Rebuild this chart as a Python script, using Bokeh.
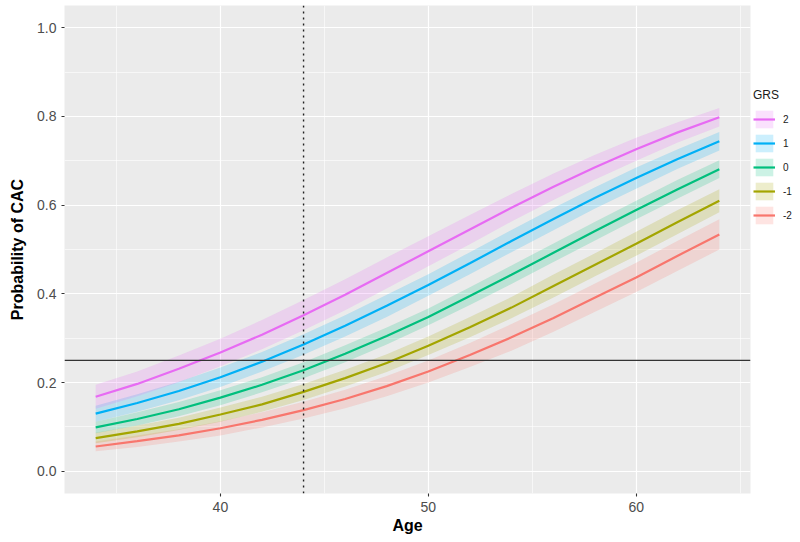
from bokeh.plotting import figure
from bokeh.models import Range1d, SingleIntervalTicker, Span, Legend, LegendItem, ColumnDataSource
from bokeh.embed import file_html
from bokeh.resources import INLINE

# ---- data ----
age = [34, 36, 38, 40, 42, 44, 46, 48, 50, 52, 54, 56, 58, 60, 62, 64]
grs_labels = ["-2", "-1", "0", "1", "2"]

p_m2 = [0.056, 0.068, 0.081, 0.097, 0.116, 0.138, 0.163, 0.192, 0.225, 0.262, 0.302, 0.345, 0.391, 0.437, 0.486, 0.534]
p_m1 = [0.075, 0.090, 0.107, 0.128, 0.151, 0.179, 0.210, 0.244, 0.283, 0.325, 0.369, 0.417, 0.465, 0.513, 0.562, 0.610]
p_0  = [0.099, 0.118, 0.140, 0.166, 0.195, 0.228, 0.265, 0.305, 0.348, 0.395, 0.443, 0.492, 0.541, 0.589, 0.636, 0.681]
p_1  = [0.130, 0.154, 0.181, 0.212, 0.247, 0.286, 0.328, 0.373, 0.420, 0.469, 0.519, 0.568, 0.616, 0.661, 0.704, 0.744]
p_2  = [0.168, 0.197, 0.231, 0.268, 0.308, 0.352, 0.398, 0.447, 0.496, 0.545, 0.594, 0.641, 0.685, 0.726, 0.764, 0.798]

# half-widths of the confidence bands
ci_m2 = [0.011, 0.013, 0.014, 0.016, 0.017, 0.019, 0.021, 0.023, 0.025, 0.027, 0.030, 0.031, 0.032, 0.033, 0.034, 0.034]
ci_m1 = [0.012, 0.013, 0.014, 0.016, 0.017, 0.018, 0.019, 0.020, 0.021, 0.023, 0.024, 0.026, 0.026, 0.027, 0.027, 0.026]
ci_0  = [0.013, 0.015, 0.016, 0.017, 0.017, 0.018, 0.019, 0.019, 0.019, 0.020, 0.021, 0.021, 0.021, 0.021, 0.021, 0.020]
ci_1  = [0.018, 0.020, 0.021, 0.022, 0.022, 0.023, 0.024, 0.025, 0.024, 0.025, 0.025, 0.025, 0.024, 0.024, 0.022, 0.021]
ci_2  = [0.027, 0.028, 0.030, 0.031, 0.033, 0.034, 0.035, 0.035, 0.034, 0.033, 0.031, 0.030, 0.028, 0.026, 0.023, 0.021]

threshold = 0.25
ref_age = 44

colors = ["#F8766D", "#A3A500", "#00BF7D", "#00B0F6", "#E76BF3"]
series = [p_m2, p_m1, p_0, p_1, p_2]
cis = [ci_m2, ci_m1, ci_0, ci_1, ci_2]

FONT = "Liberation Sans"

p = figure(frame_width=686, frame_height=488, output_backend="svg", toolbar_location=None,
           x_range=Range1d(32.5, 65.5), y_range=Range1d(-0.05, 1.05),
           min_border_left=64, min_border_top=5, min_border_bottom=48, min_border_right=0)
p.background_fill_color = "#EBEBEB"
p.border_fill_color = "white"
p.outline_line_color = None

p.xaxis.ticker = SingleIntervalTicker(interval=10, num_minor_ticks=2)
p.yaxis.ticker = SingleIntervalTicker(interval=0.2, num_minor_ticks=2)
p.yaxis.major_label_overrides = {0: "0.0", 0.2: "0.2", 0.4: "0.4", 0.6: "0.6", 0.8: "0.8", 1: "1.0"}

for g in (p.xgrid, p.ygrid):
    g.grid_line_color = "white"
    g.grid_line_width = 1.2
    g.minor_grid_line_color = "white"
    g.minor_grid_line_width = 0.6

for ax in (p.xaxis, p.yaxis):
    ax.axis_line_color = None
    ax.major_tick_in = 0
    ax.major_tick_out = 3
    ax.major_tick_line_color = "#333333"
    ax.major_tick_line_width = 1.1
    ax.minor_tick_line_color = None
    ax.major_label_text_font = FONT
    ax.major_label_text_font_size = "14px"
    ax.major_label_text_color = "#4D4D4D"
    ax.axis_label_text_font = FONT
    ax.axis_label_text_font_style = "bold"
    ax.axis_label_text_font_size = "16px"
    ax.axis_label_text_color = "black"

p.xaxis.axis_label = "Age"
p.yaxis.axis_label = "Probability of CAC"
p.xaxis.major_label_standoff = 4
p.yaxis.major_label_standoff = 4
p.xaxis.axis_label_standoff = 2
p.yaxis.axis_label_standoff = 8

bands = []
for vals, ci, col in zip(series, cis, colors):
    lo = [v - c for v, c in zip(vals, ci)]
    hi = [v + c for v, c in zip(vals, ci)]
    src = ColumnDataSource(dict(x=age, lo=lo, hi=hi))
    bands.append(p.varea(x="x", y1="lo", y2="hi", source=src, fill_color=col, fill_alpha=0.2))

lines = []
for vals, col in zip(series, colors):
    src = ColumnDataSource(dict(x=age, y=vals))
    lines.append(p.line(x="x", y="y", source=src, line_color=col, line_width=2.2))

p.add_layout(Span(location=threshold, dimension="width", line_color="#333333", line_width=1.3))
p.add_layout(Span(location=ref_age, dimension="height", line_color="#222222", line_width=1.4,
                  line_dash="2 4"))

items = []
for i in reversed(range(5)):
    items.append(LegendItem(label=grs_labels[i], renderers=[bands[i], lines[i]]))

legend = Legend(items=items, title="GRS", location=(3, 267), orientation="vertical",
                glyph_width=22, glyph_height=22, spacing=2, padding=0, margin=0,
                label_standoff=8, label_text_font=FONT, label_text_font_size="10px",
                label_text_color="#1A1A1A",
                title_text_font=FONT, title_text_font_size="12px", title_text_font_style="normal",
                title_text_color="#1A1A1A", title_standoff=6,
                background_fill_color="white", border_line_color=None)
p.add_layout(legend, "right")

open("out.html", "w").write(file_html(p, INLINE))
